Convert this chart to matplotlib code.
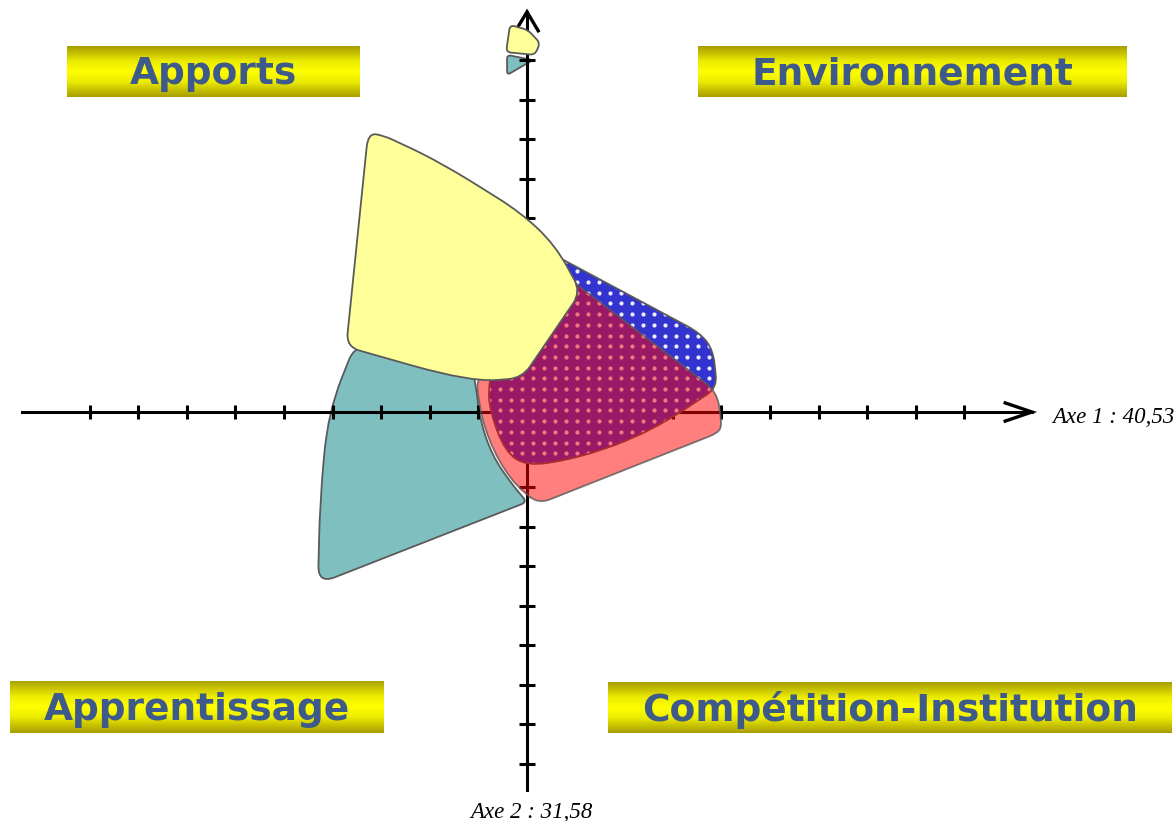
import numpy as np
import matplotlib
matplotlib.use('Agg')
import matplotlib.pyplot as plt
from matplotlib.path import Path
from matplotlib.patches import PathPatch
from matplotlib.colors import LinearSegmentedColormap

W, H = 1174, 821

# factor map coordinates (axis 1 horizontal, axis 2 vertical)
apports_x = [-3.27, -3.72, -1.17, -0.10, 1.11, 0.58, -0.14, -1.79, -2.95]
apports_y = [7.06, 1.65, 0.76, 0.86, 3.04, 4.23, 5.06, 6.33, 7.00]
apports_r = [14, 14, 60, 14, 14, 25, 25, 40, 10]

apprent_x = [-3.54, -4.09, -4.26, -4.30, 0.00, -0.35, -0.72, -0.97, -1.05, -1.17, -2.61]
apprent_y = [1.70, 0.00, -2.23, -4.35, -2.28, -1.77, -1.09, -0.20, 0.68, 1.32, 1.57]
apprent_r = [16, 40, 40, 18, 6, 30, 30, 30, 30, 16, 30]

envir_x = [0.37, 3.56, 3.83, 3.91, 2.53, 1.09, 0.00, -0.45, -0.76, -0.80, -0.56]
envir_y = [4.10, 2.00, 1.57, 0.61, -0.51, -1.16, -1.37, -1.01, 0.00, 0.68, 2.08]
envir_r = [10, 14, 14, 12, 40, 40, 20, 30, 30, 30, 20]

compet_x = [0.58, 3.91, 4.01, 3.93, 0.23, -0.35, -0.80, -1.01, -1.03, -0.14]
compet_y = [3.65, 0.51, -0.33, -0.53, -2.33, -1.72, -0.71, 0.30, 0.94, 2.08]
compet_r = [10, 14, 10, 10, 12, 30, 30, 30, 20, 20]

small_yel_x = [-0.35, -0.43, 0.16, 0.27, 0.02]
small_yel_y = [9.80, 9.11, 9.04, 9.34, 9.67]
small_teal_x = [-0.41, -0.41, 0.12]
small_teal_y = [9.04, 8.53, 8.91]

x_ticks = [-9, -8, -7, -6, -5, -4, -3, -2, -1, 1, 2, 3, 4, 5, 6, 7, 8, 9]
y_ticks = [-8.9, -7.9, -6.9, -5.9, -4.9, -3.9, -2.9, -1.9, -0.9,
           0.9, 1.9, 2.9, 3.9, 4.9, 5.9, 6.9, 7.9, 8.9]

quadrants = ["Apports", "Environnement", "Apprentissage", "Compétition-Institution"]
axis1_label = "Axe 1 : 40,53"
axis2_label = "Axe 2 : 31,58"

XLIM = (-10.844, 13.313)
YLIM = (-10.354, 10.430)
SX = W / (XLIM[1] - XLIM[0])
SY = H / (YLIM[1] - YLIM[0])


def rounded_path(xs, ys, r):
    # polygon with rounded corners, rounding done in pixel space
    pts = np.column_stack([np.array(xs) * SX, np.array(ys) * SY])
    n = len(pts)
    radii = np.broadcast_to(np.asarray(r, dtype=float), (n,))
    verts, codes = [], []
    for i in range(n):
        p0, p1, p2 = pts[i - 1], pts[i], pts[(i + 1) % n]
        d1, d2 = p0 - p1, p2 - p1
        l1, l2 = np.hypot(*d1), np.hypot(*d2)
        a = p1 + d1 / l1 * min(radii[i], l1 / 2)
        b = p1 + d2 / l2 * min(radii[i], l2 / 2)
        verts.append(a)
        codes.append(Path.MOVETO if i == 0 else Path.LINETO)
        verts += [p1, b]
        codes += [Path.CURVE3, Path.CURVE3]
    verts.append(verts[0])
    codes.append(Path.CLOSEPOLY)
    v = np.array(verts)
    v[:, 0] /= SX
    v[:, 1] /= SY
    return Path(v, codes)


fig = plt.figure(figsize=(W / 100, H / 100), dpi=100)
ax = fig.add_axes([0, 0, 1, 1])
ax.set_xlim(XLIM)
ax.set_ylim(YLIM)
ax.axis('off')

edge = '#5a5a5a'

# teal blob (under the axes)
ax.add_patch(PathPatch(rounded_path(apprent_x, apprent_y, apprent_r), facecolor='#80bfbf',
                       edgecolor=edge, lw=1.3, zorder=1))
ax.add_patch(PathPatch(rounded_path(small_teal_x, small_teal_y, 4), facecolor='#80bfbf',
                       edgecolor=edge, lw=1.3, zorder=1))

# axes with ticks and arrows
ax.plot([-10.39, 10.39], [0, 0], color='black', lw=2.2, zorder=2)
ax.plot([0, 0], [-9.57, 10.13], color='black', lw=2.2, zorder=2)
ax.plot(x_ticks, np.zeros(len(x_ticks)), ls='none', marker='|', ms=10, mew=2.2,
        color='black', zorder=2)
ax.plot(np.zeros(len(y_ticks)), y_ticks, ls='none', marker='_', ms=12, mew=2.2,
        color='black', zorder=2)
ax.plot([9.84, 10.39, 9.84], [0.23, 0, -0.23], color='black', lw=2.4,
        solid_joinstyle='miter', zorder=2)
ax.plot([-0.21, 0, 0.23], [9.70, 10.13, 9.65], color='black', lw=2.4,
        solid_joinstyle='miter', zorder=2)

# blue dotted blob
env_path = rounded_path(envir_x, envir_y, envir_r)
env_patch = PathPatch(env_path, facecolor='#3333d0', edgecolor='none', zorder=3)
ax.add_patch(env_patch)
ext = env_path.get_extents()
gx, gy = np.meshgrid(np.arange(ext.x0, ext.x1, 11 / SX), np.arange(ext.y0, ext.y1, 10.7 / SY))
dots = ax.scatter(gx.ravel(), gy.ravel(), s=9, color='#eeeeff', linewidths=0, zorder=3.1)
dots.set_clip_path(env_patch)
ax.add_patch(PathPatch(env_path, facecolor='none', edgecolor=edge, lw=1.3, zorder=3.2))

# red translucent blob
ax.add_patch(PathPatch(rounded_path(compet_x, compet_y, compet_r), facecolor=(1, 0, 0, 0.5),
                       edgecolor=(0.35, 0.35, 0.35, 0.8), lw=1.3, zorder=4))

# yellow blobs on top
ax.add_patch(PathPatch(rounded_path(apports_x, apports_y, apports_r), facecolor='#ffff99',
                       edgecolor=edge, lw=1.3, zorder=5))
ax.add_patch(PathPatch(rounded_path(small_yel_x, small_yel_y, 5), facecolor='#ffff99',
                       edgecolor=edge, lw=1.3, zorder=5))

ax.text(10.8, -0.15, axis1_label, family='Liberation Serif', style='italic',
        fontsize=16.5, ha='left', va='center')
ax.text(0.1, -10.13, axis2_label, family='Liberation Serif', style='italic',
        fontsize=16.5, ha='center', va='center')

# gradient label boxes (pixel boxes: x0, y0, x1, y1)
boxes = [(67, 46, 360, 97), (698, 46, 1127, 97), (10, 681, 383, 733), (608, 682, 1172, 733)]
grad = LinearSegmentedColormap.from_list(
    'bar', [(0, '#a89e00'), (0.3, '#ecec00'), (0.5, '#ffff00'), (0.7, '#ecec00'), (1, '#a89e00')])
for (x0, y0, x1, y1), name in zip(boxes, quadrants):
    bax = fig.add_axes([x0 / W, 1 - y1 / H, (x1 - x0) / W, (y1 - y0) / H])
    bax.imshow(np.linspace(0, 1, 64).reshape(-1, 1), cmap=grad, aspect='auto',
               extent=(0, 1, 0, 1))
    bax.set_xlim(0, 1)
    bax.set_ylim(0, 1)
    bax.axis('off')
    bax.text(0.5, 0.45, name, color='#3d5a8a', fontsize=27, fontweight='bold',
             family='DejaVu Sans', ha='center', va='center')

fig.savefig('out.png', dpi=100)
